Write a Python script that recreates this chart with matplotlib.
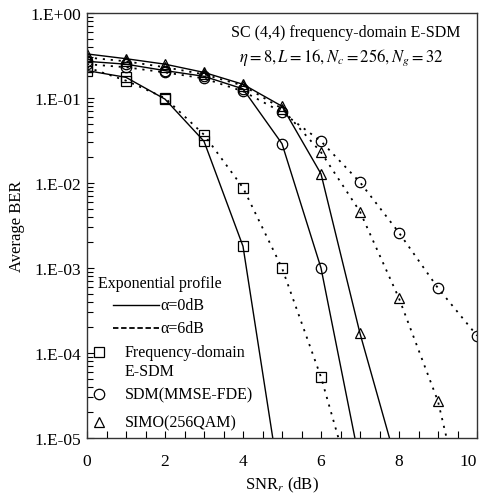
import numpy as np
import matplotlib
matplotlib.use('Agg')
import matplotlib.pyplot as plt
from matplotlib.ticker import FixedLocator, FuncFormatter, LogLocator, NullFormatter

plt.rcParams['font.family'] = ['Liberation Serif', 'DejaVu Serif']
plt.rcParams['mathtext.fontset'] = 'stix'

# SNR (dB) and average BER
snr_esdm_0 = [0, 1, 2, 3, 4, 5]
ber_esdm_0 = [0.21, 0.175, 0.097, 0.031, 1.8e-3, 2e-6]
snr_esdm_6 = [0, 1, 2, 3, 4, 5, 6, 7]
ber_esdm_6 = [0.23, 0.16, 0.10, 0.037, 8.8e-3, 1.0e-3, 5.2e-5, 1.3e-6]

snr_sdm_0 = [0, 1, 2, 3, 4, 5, 6, 7]
ber_sdm_0 = [0.27, 0.25, 0.21, 0.18, 0.128, 0.029, 1.0e-3, 5e-6]
snr_sdm_6 = [0, 1, 2, 3, 4, 5, 6, 7, 8, 9, 10]
ber_sdm_6 = [0.25, 0.23, 0.20, 0.17, 0.12, 0.068, 0.031, 0.0102, 0.0026, 5.8e-4, 1.6e-4]

snr_simo_0 = [0, 1, 2, 3, 4, 5, 6, 7, 8]
ber_simo_0 = [0.33, 0.29, 0.25, 0.20, 0.145, 0.08, 0.0128, 1.7e-4, 4e-6]
snr_simo_6 = [0, 1, 2, 3, 4, 5, 6, 7, 8, 9, 10]
ber_simo_6 = [0.30, 0.27, 0.23, 0.19, 0.14, 0.075, 0.023, 0.0046, 4.4e-4, 2.7e-5, 3e-7]

fig = plt.figure(figsize=(4.82, 5.02), dpi=100)
ax = fig.add_axes([87 / 482, 1 - 439 / 502, 390 / 482, 425 / 502])

dotted = (0, (1.2, 3.2))
mk = dict(color='black', markerfacecolor='none', markersize=7.5, markeredgewidth=0.9,
          clip_on=True)

ax.plot(snr_esdm_0, ber_esdm_0, '-', marker='s', lw=1.0, **mk)
ax.plot(snr_esdm_6, ber_esdm_6, linestyle=dotted, marker='s', lw=1.3, **mk)
ax.plot(snr_sdm_0, ber_sdm_0, '-', marker='o', lw=1.0, **mk)
ax.plot(snr_sdm_6, ber_sdm_6, linestyle=dotted, marker='o', lw=1.3, **mk)
ax.plot(snr_simo_0, ber_simo_0, '-', marker='^', lw=1.0, **mk)
ax.plot(snr_simo_6, ber_simo_6, linestyle=dotted, marker='^', lw=1.3, **mk)

ax.set_yscale('log')
ax.set_xlim(0, 10)
ax.set_ylim(1e-5, 1)

ax.xaxis.set_major_locator(FixedLocator([0, 2, 4, 6, 8, 10]))
ax.xaxis.set_minor_locator(FixedLocator(np.arange(0, 10.01, 0.5)))
ax.yaxis.set_major_locator(LogLocator(base=10, numticks=10))
ax.yaxis.set_minor_locator(LogLocator(base=10, subs=np.arange(2, 10), numticks=10))
ax.yaxis.set_minor_formatter(NullFormatter())
ax.yaxis.set_major_formatter(FuncFormatter(
    lambda v, p: '1.E+00' if v >= 1 else '1.E-%02d' % round(-np.log10(v))))

ax.tick_params(which='both', direction='in', top=False, right=False, labelsize=12.5,
               colors='black')
ax.tick_params(which='major', length=5, width=0.8)
ax.tick_params(axis='x', which='major', pad=11)
ax.tick_params(axis='y', which='major', pad=4)
ax.tick_params(which='minor', length=4, width=0.8)
ax.tick_params(axis='x', which='minor', length=5)
for s in ax.spines.values():
    s.set_linewidth(1.0)
    s.set_color('#333333')

ax.set_xlabel('SNR$_r$ (dB)', fontsize=12, labelpad=4)
ax.set_ylabel('Average BER', fontsize=12, labelpad=4)

ax.text(0.663, 0.955, 'SC (4,4) frequency-domain E-SDM', transform=ax.transAxes,
        ha='center', va='center', fontsize=11.5)
ax.text(0.651, 0.896, r'$\eta = 8, L = 16, N_c = 256, N_g = 32$', transform=ax.transAxes,
        ha='center', va='center', fontsize=12)

# hand-made legend block
def axpt(px, py):
    return ax.transAxes.inverted().transform(fig.transFigure.transform((px / 482, 1 - py / 502)))

tx, ty = axpt(98, 284)
ax.text(tx, ty, 'Exponential profile', transform=ax.transAxes, va='center', fontsize=11.5)
for (y, ls, lw, lab) in [(306, '-', 1.0, '\u03b1=0dB'), (329, (0, (3, 1.5)), 1.3, '\u03b1=6dB')]:
    x0, yy = axpt(113, y)
    x1, _ = axpt(159, y)
    ax.plot([x0, x1], [yy, yy], color='black', lw=lw, linestyle=ls, transform=ax.transAxes)
    ax.text(x1 + 0.003, yy, lab, transform=ax.transAxes, va='center', fontsize=11.5)

for (y, m, lab) in [(353, 's', 'Frequency-domain'), (395, 'o', 'SDM(MMSE-FDE)'),
                    (423, '^', 'SIMO(256QAM)')]:
    xm, ym = axpt(99, y)
    ax.plot([xm], [ym], marker=m, color='black', markerfacecolor='none', markersize=7.5,
            markeredgewidth=0.9, transform=ax.transAxes)
    xt, _ = axpt(125, y)
    ax.text(xt, ym, lab, transform=ax.transAxes, va='center', fontsize=11.5)
xt, yt = axpt(125, 372)
ax.text(xt, yt, 'E-SDM', transform=ax.transAxes, va='center', fontsize=11.5)

fig.canvas.draw()
ax.get_xticklabels()[-1].set_ha('right')

fig.savefig('out.png', dpi=100)
